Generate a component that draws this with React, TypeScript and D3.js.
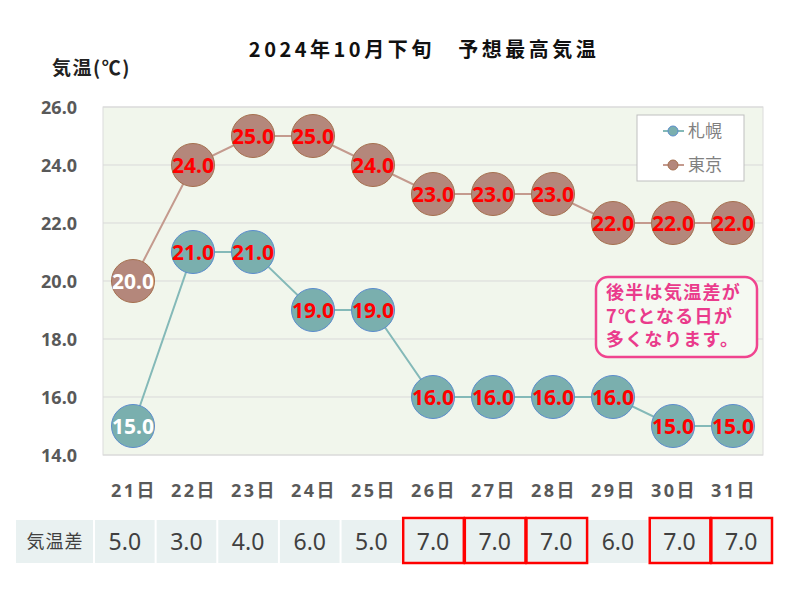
import React from "react";
import * as d3 from "d3";

const days = ["21日", "22日", "23日", "24日", "25日", "26日", "27日", "28日", "29日", "30日", "31日"];
const sapporo = [15, 21, 21, 19, 19, 16, 16, 16, 16, 15, 15];
const tokyo = [20, 24, 25, 25, 24, 23, 23, 23, 22, 22, 22];
const diffs = [5, 3, 4, 6, 5, 7, 7, 7, 6, 7, 7];
const yTicks = [14, 16, 18, 20, 22, 24, 26];
const highlighted = [5, 6, 7, 9, 10];
const noteLines = ["後半は気温差が", "7℃となる日が", "多くなります。"];

const FONT = "'Noto Sans CJK JP', 'Noto Sans', sans-serif";
const NUMFONT = "'Noto Sans', 'Noto Sans CJK JP', sans-serif";

export default function App() {
  const W = 800, H = 600;
  const left = 103, right = 763, top = 107, bottom = 455;
  const x = d3.scaleBand<string>().domain(days).range([left, right]);
  const y = d3.scaleLinear().domain([14, 26]).range([bottom, top]);
  const tx = d3.scaleBand<string>().domain(days).range([94, 772]);
  const cx = (d: string) => (x(d) as number) + x.bandwidth() / 2;
  const line = d3.line<number>().x((_, i) => cx(days[i])).y((v) => y(v));
  const r = 21.5;

  const series = [
    { name: "札幌", data: sapporo, fill: "#7aafae", stroke: "#5b8ccc", line: "#84b9b8" },
    { name: "東京", data: tokyo, fill: "#b4877b", stroke: "#a5704f", line: "#c49a8e" },
  ];

  return (
    <svg width={W} height={H} style={{ position: "absolute", left: 0, top: 0, fontFamily: FONT }}>
      <rect x={0} y={0} width={W} height={H} fill="#ffffff" />
      <text x={424} y={57} textAnchor="middle" fontSize={20} fontWeight="bold" fill="#111" letterSpacing={3.5}>
        2024年10月下旬　予想最高気温
      </text>
      <text x={52} y={75} fontSize={19} fontWeight="bold" fill="#222" letterSpacing={1.5}>気温(℃)</text>

      <rect x={left} y={top} width={right - left} height={bottom - top} fill="#f1f6ec" stroke="#dcdcdc" />
      {yTicks.map((t) => (
        <g key={t}>
          <line x1={left} x2={right} y1={y(t)} y2={y(t)} stroke="#d9d9d9" strokeWidth={1} />
          <text x={77} y={y(t) + 6.5} textAnchor="end" fontSize={18} fontWeight="bold" fill="#595959" fontFamily={NUMFONT}>
            {t.toFixed(1)}
          </text>
        </g>
      ))}

      {series.map((s) => (
        <path key={s.name} d={line(s.data) || ""} fill="none" stroke={s.line} strokeWidth={2} />
      ))}
      {series.map((s) =>
        s.data.map((v, i) => (
          <g key={s.name + i}>
            <circle cx={cx(days[i])} cy={y(v)} r={r} fill={s.fill} stroke={s.stroke} strokeWidth={1} />
            <text
              x={cx(days[i])}
              y={y(v) + 7.5}
              textAnchor="middle"
              fontSize={21}
              fontWeight="bold"
              fontFamily={NUMFONT}
              fill={i === 0 ? "#ffffff" : "#ff0000"}
            >
              {v.toFixed(1)}
            </text>
          </g>
        ))
      )}

      {/* legend */}
      <rect x={637} y={115} width={107} height={66} fill="#ffffff" stroke="#bfbfbf" />
      {series.map((s, i) => (
        <g key={"lg" + s.name} transform={`translate(0, ${131 + i * 34})`}>
          <line x1={663} x2={684} y1={0} y2={0} stroke={s.line} strokeWidth={2} />
          <circle cx={673} cy={0} r={5} fill={s.fill} stroke={s.stroke} />
          <text x={688} y={6} fontSize={17} fill="#808080">{s.name}</text>
        </g>
      ))}

      {/* note */}
      <rect x={596} y={277} width={161} height={80} rx={12} fill="#f5f9f2" stroke="#f0448f" strokeWidth={2.5} />
      {noteLines.map((t, i) => (
        <text key={t} x={606} y={299 + i * 23.5} fontSize={18} fontWeight="bold" fill="#ea3b8c" letterSpacing={1.3}>
          {t}
        </text>
      ))}

      {days.map((d) => (
        <text key={d} x={cx(d) + 1} y={497} textAnchor="middle" fontSize={18} fontWeight="bold" fill="#595959" fontFamily={NUMFONT} letterSpacing={2.5}>
          {d}
        </text>
      ))}

      {/* table */}
      <rect x={16} y={520} width={77} height={43} fill="#e9f1f1" />
      <text x={55} y={548} textAnchor="middle" fontSize={18} fill="#404040" letterSpacing={1}>気温差</text>
      {days.map((d, i) => (
        <g key={"t" + d}>
          <rect x={(tx(d) as number) + 1} y={520} width={tx.bandwidth() - 2} height={43} fill="#e9f1f1" />
          <text
            x={(tx(d) as number) + tx.bandwidth() / 2}
            y={550}
            textAnchor="middle"
            fontSize={23}
            fill="#404040"
            fontFamily={NUMFONT}
          >
            {diffs[i].toFixed(1)}
          </text>
        </g>
      ))}
      {highlighted.map((i) => (
        <rect
          key={"h" + i}
          x={(tx(days[i]) as number) + 1}
          y={518}
          width={tx.bandwidth() - 1}
          height={45}
          fill="none"
          stroke="#ff0000"
          strokeWidth={2.5}
        />
      ))}
    </svg>
  );
}
